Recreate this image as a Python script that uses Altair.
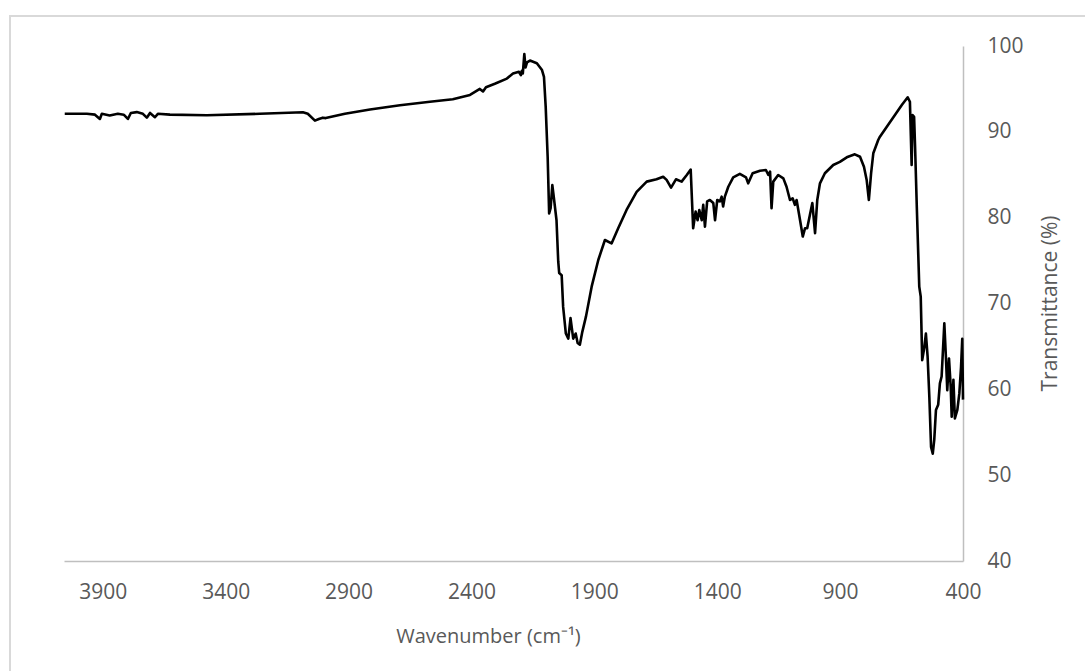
import altair as alt
import pandas as pd

# FTIR spectrum: wavenumber (cm-1) and transmittance (%)
wavenumber = [
    4055, 3965, 3932, 3912, 3904, 3872, 3839, 3815, 3798, 3786, 3762, 3737,
    3721, 3708, 3688, 3676, 3627, 3477, 3261, 3086, 3066, 3037, 3021, 3005,
    2993, 2915, 2813, 2691, 2569, 2476, 2406, 2366, 2353, 2341, 2305, 2256,
    2231, 2207, 2199, 2195, 2191, 2185, 2180, 2174, 2162, 2134, 2113, 2105,
    2098, 2090, 2084, 2078, 2071, 2065, 2054, 2047, 2043, 2033, 2027, 2016,
    2006, 1997, 1986, 1976, 1968, 1959, 1949, 1934, 1911, 1884, 1857, 1830,
    1803, 1769, 1728, 1687, 1647, 1620, 1606, 1588, 1568, 1545, 1524, 1508,
    1498, 1488, 1480, 1473, 1463, 1457, 1450, 1441, 1430, 1416, 1409, 1400,
    1389, 1382, 1376, 1369, 1355, 1335, 1308, 1283, 1274, 1256, 1226, 1202,
    1192, 1185, 1179, 1172, 1152, 1131, 1118, 1104, 1093, 1084, 1077, 1063,
    1052, 1043, 1034, 1023, 1013, 1002, 993, 982, 962, 928, 901, 873,
    840, 819, 803, 792, 783, 774, 765, 745, 738, 710, 677, 649,
    625, 616, 609, 605, 599, 595, 588, 578, 572, 566, 557, 551,
    544, 537, 530, 523, 517, 510, 501, 494, 487, 476, 469, 464,
    457, 450, 446, 439, 433, 423, 415, 408, 403, 400,
]
transmittance = [
    92.1, 92.1, 92.0, 91.5, 92.1, 91.9, 92.1, 92.0, 91.5, 92.2, 92.3, 92.1,
    91.65, 92.2, 91.7, 92.1, 92.0, 91.93, 92.1, 92.28, 92.1, 91.3, 91.5, 91.65,
    91.6, 92.1, 92.6, 93.1, 93.5, 93.8, 94.3, 95.0, 94.7, 95.2, 95.6, 96.2,
    96.8, 97.0, 96.6, 97.1, 96.8, 99.07, 97.5, 98.1, 98.3, 98.0, 97.2, 96.4,
    92.9, 87.1, 80.5, 81.1, 83.8, 82.4, 79.7, 74.9, 73.55, 73.3, 69.6, 66.5,
    65.9, 68.3, 65.9, 66.5, 65.4, 65.2, 66.7, 68.5, 71.96, 75.07, 77.4, 77.0,
    78.76, 80.9, 83.0, 84.2, 84.47, 84.77, 84.4, 83.5, 84.47, 84.2, 84.97, 85.6,
    78.76, 80.7, 79.7, 80.9, 79.7, 81.5, 78.95, 81.9, 82.06, 81.7, 79.7, 82.06,
    81.9, 82.45, 81.3, 82.45, 83.6, 84.7, 85.1, 84.7, 84.0, 85.17, 85.47, 85.55,
    84.97, 85.36, 81.1, 84.2, 84.97, 84.58, 83.6, 82.06, 82.25, 81.5, 82.06, 79.7,
    77.8, 78.76, 78.76, 80.3, 81.7, 78.2, 82.06, 84.0, 85.17, 86.14, 86.5, 87.03,
    87.38, 87.1, 85.94, 84.4, 82.06, 85.17, 87.5, 89.05, 89.43, 90.6, 91.96, 93.13,
    94.02, 93.5, 86.14, 91.96, 91.76, 88.27, 81.28, 71.96, 70.8, 63.4, 64.97, 66.5,
    63.8, 59.14, 53.3, 52.5, 54.1, 57.6, 58.2, 60.7, 61.5, 67.7, 63.4, 59.9,
    63.6, 60.3, 56.8, 61.1, 56.6, 57.6, 59.5, 62.6, 65.9, 58.8,
]

x_ticks = [3900, 3400, 2900, 2400, 1900, 1400, 900, 400]
y_ticks = [40, 50, 60, 70, 80, 90, 100]

df = pd.DataFrame({"wn": wavenumber, "t": transmittance})

W, H = 899, 515
FONT = "Open Sans"
GREY = "#595959"

spectrum = alt.Chart(df).mark_line(
    color="black", strokeWidth=2.6, strokeJoin="round"
).encode(
    x=alt.X(
        "wn:Q",
        scale=alt.Scale(domain=[400, 4058], reverse=True, nice=False, zero=False),
        axis=alt.Axis(
            values=x_ticks,
            format="d",
            ticks=False,
            grid=False,
            domainColor="#bfbfbf",
            domainWidth=1.5,
            labelFont=FONT,
            labelFontSize=21,
            labelColor=GREY,
            labelPadding=20,
            labelFlush=False,
            title="Wavenumber (cm⁻¹)",
            titleFont=FONT,
            titleFontSize=20,
            titleFontWeight="normal",
            titleColor=GREY,
            titleX=424,
            titleY=75,
            titleAlign="center",
            titleBaseline="middle",
        ),
    ),
    y=alt.Y(
        "t:Q",
        scale=alt.Scale(domain=[40, 100], nice=False, zero=False),
        axis=alt.Axis(
            orient="right",
            values=y_ticks,
            format="d",
            ticks=False,
            grid=False,
            domainColor="#bfbfbf",
            domainWidth=1.5,
            labelFont=FONT,
            labelFontSize=21,
            labelColor=GREY,
            labelPadding=24,
            labelFlush=False,
            title="Transmittance (%)",
            titleFont=FONT,
            titleFontSize=21,
            titleFontWeight="normal",
            titleColor=GREY,
            titleAngle=270,
            titleX=87,
            titleY=257,
            titleAlign="center",
            titleBaseline="middle",
        ),
    ),
)

# light frame around the whole chart
frame = alt.Chart(pd.DataFrame({"k": [0]})).mark_rect(
    fill=None, stroke="#d9d9d9", strokeWidth=2, clip=False
).encode(
    x=alt.value(-54), x2=alt.value(1200), y=alt.value(-30), y2=alt.value(800)
)

chart = (
    alt.layer(frame, spectrum)
    .properties(
        width=W,
        height=H,
        padding={"left": 64, "top": 46, "right": 122, "bottom": 110},
        autosize=alt.AutoSizeParams(type="none"),
        background="white",
    )
    .configure_view(stroke=None)
)

chart.save("out.html", embed_options={"renderer": "svg", "actions": False})
